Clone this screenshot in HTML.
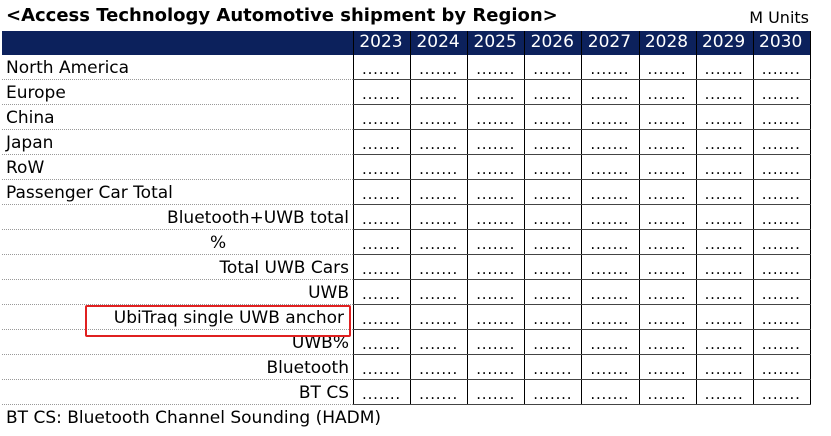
<!DOCTYPE html>
<html><head><style>
body{margin:0;width:831px;height:436px;background:#fff;position:relative;overflow:hidden;font-family:"DejaVu Sans","Liberation Sans",sans-serif;color:#000}
.a{position:absolute;white-space:nowrap}
.t{left:6px;top:5px;font-size:18px;font-weight:bold;letter-spacing:0px}
.mu{right:22px;top:8px;font-size:16px}
.hdr{left:2px;top:31px;width:809px;height:24px;background:#0c215c}
.y{top:32px;font-size:17px;color:#fff;width:56px;text-align:center}
.l{font-size:17px}
.vl{position:absolute;width:1px;background:#000}
.hl{position:absolute;height:1px;background:#444;left:353px;width:458px}
.dl{position:absolute;height:0;border-top:1px dotted #999;left:2px;width:351px}
.d{font-size:15px;width:57px;text-align:center;letter-spacing:0.8px}
</style></head><body>
<div class="a t">&lt;Access Technology Automotive shipment by Region&gt;</div>
<div class="a mu">M Units</div>
<div class="a hdr"></div>
<div id="g"></div>
<div style="position:absolute;left:85px;top:305px;width:262px;height:28px;border:2px solid #e02020;border-radius:2px"></div>
<div class="a l" style="left:6px;top:408px">BT CS: Bluetooth Channel Sounding (HADM)</div>
<script>
var g=document.getElementById('g'),h='';
var yrs=[2023,2024,2025,2026,2027,2028,2029,2030];
var x0=353,w=57.1;
for(var i=0;i<8;i++){h+='<div class="a y" style="left:'+(x0+i*w)+'px">'+yrs[i]+'</div>';}
for(var i=0;i<=8;i++){h+='<div class="vl" style="left:'+Math.round(x0+i*w)+'px;top:31px;height:374px"></div>';}
var rows=[['North America',0],['Europe',0],['China',0],['Japan',0],['RoW',0],['Passenger Car Total',0],['Bluetooth+UWB total',1],['%',2],['Total UWB Cars',1],['UWB',1],['UbiTraq single UWB anchor',3],['UWB%',1],['Bluetooth',1],['BT CS',1]];
for(var r=0;r<14;r++){var t=55+r*25;
var R=rows[r];var st;
if(R[1]==0)st='left:6px';else if(R[1]==1)st='right:'+(831-349)+'px';else if(R[1]==2)st='left:210px';else st='right:'+(831-344)+'px';
h+='<div class="a l" style="'+st+';top:'+(t+3)+'px">'+R[0]+'</div>';
h+='<div class="dl" style="top:'+(t+24)+'px"></div>';
h+='<div class="hl" style="top:'+(t+24)+'px"></div>';
for(var i=0;i<8;i++)h+='<div class="a d" style="left:'+(x0+i*w)+'px;top:'+(t+5)+'px">.......</div>';
}
g.innerHTML=h;
</script>
</body></html>
